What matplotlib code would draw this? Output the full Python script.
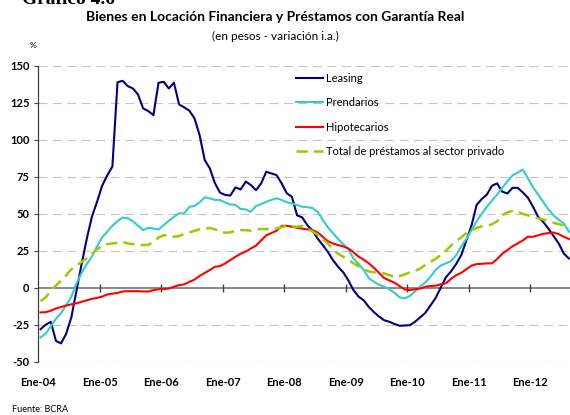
import numpy as np
import matplotlib.pyplot as plt

plt.rcParams['font.family'] = ['Lato', 'DejaVu Sans']

# monthly series, Jan-2004 .. Aug-2012 (y/y % change)
leasing = [
    -28, -25, -23, -36, -37.6, -31, -20, -2, 16, 33,
    48, 58, 69, 76, 82, 139, 140, 136.4, 134.8, 130.7,
    121.3, 119.5, 116.8, 138.7, 139.3, 134.8, 138.7, 124, 122, 119.8,
    114.6, 103.3, 86.4, 80.7, 70.6, 64.3, 62.8, 62.4, 67.9, 66.5,
    71.8, 69.5, 66, 70.6, 78.5, 77.3, 76.2, 70.6, 63.9, 61.5,
    49, 47.6, 42.4, 38.6, 33.4, 28.9, 24.3, 18.7, 14.2, 10.5,
    5, -1.6, -6, -8.5, -13, -16.5, -19.5, -22, -23, -24.5,
    -25.7, -25.5, -25.3, -23, -20, -17, -12, -7, 0, 7,
    11, 16, 22, 32, 42, 56, 60, 63, 69, 70.6,
    65, 63.8, 67.6, 67.6, 64.5, 60.9, 54.8, 48, 44.5, 40,
    35, 30, 23.2, 19.8,
]
prendarios = [
    -33.6, -31, -26, -21, -17, -12, -6, 3, 10, 16,
    21, 28, 34, 38, 42, 45, 47.5, 47, 45, 42,
    39, 40.6, 40.1, 39.4, 42.4, 45.3, 48, 50.3, 50.3, 54.8,
    55.3, 57.8, 61.2, 60.5, 59.4, 59.4, 57.6, 56.4, 56, 53.3,
    53, 51.4, 55.3, 56.6, 58.2, 59.4, 60.5, 59.4, 57.8, 57,
    56, 54.8, 54.5, 54, 51.4, 46, 41, 37, 33, 29.5,
    26, 19.8, 16, 12, 6.5, 4, 2, 0.7, -1, -3.5,
    -6.5, -7.2, -5.5, -2.5, 1, 3.5, 7.5, 12, 15, 16.5,
    18, 22, 28, 33, 39, 45, 50, 54.8, 59, 63,
    67.5, 72, 76, 77.8, 80, 74, 68, 63, 58, 53,
    49, 46, 43.5, 38,
]
hipotecarios = [
    -16.7, -16.5, -15.5, -14, -13, -12, -11.2, -10.5, -9.5, -8.5,
    -7.5, -6.8, -6, -4.5, -4, -3.5, -2.5, -2.3, -2.3, -2.3,
    -2.5, -2.5, -1.6, -1, -0.9, -0.5, 0.7, 1.8, 2.3, 4,
    5.5, 8, 10, 12, 14.2, 14.7, 16.5, 18.7, 21, 23,
    24.5, 26.6, 28.5, 32, 35.5, 37, 38.6, 41.9, 41.9, 41.3,
    40.6, 40, 39.5, 39, 37.4, 34.5, 31.5, 30, 28.9, 28,
    26.6, 24, 21, 19, 16.5, 13.5, 10, 6.5, 5, 3.4,
    1.1, -1.2, -1.6, -1, -0.5, 0.7, 1.2, 1.4, 2.3, 3,
    6, 8.5, 10.1, 12.5, 15, 16, 16.2, 16.5, 16.5, 19.4,
    23, 25.5, 28, 30, 32, 34.5, 34.5, 35.5, 36.5, 37,
    37.4, 36.3, 34.5, 33,
]
total = [
    -9, -6.5, -2, 1.5, 5, 8.5, 12.5, 15, 17.5, 20,
    23, 26, 28.5, 29.5, 30, 30.4, 31, 30, 29.5, 29,
    28.9, 29, 31, 34, 35.5, 35.5, 34.5, 35, 36.5, 37.5,
    38.5, 39.5, 40, 40.5, 39.5, 38, 37.2, 37.5, 38.5, 39,
    39, 38.6, 39.5, 39.7, 39.7, 40, 40.1, 41, 41.9, 41.5,
    41.3, 41.9, 40, 38, 36, 33, 30, 26, 23, 21,
    19, 16.5, 14.5, 12.5, 11, 10.5, 10.2, 9.7, 8.5, 7.5,
    7.9, 9, 10.5, 11.5, 13, 15.5, 17.5, 19.5, 22, 25,
    28.5, 31.5, 34, 37, 39, 40.5, 41.5, 42, 43, 45,
    49, 51, 52, 51.5, 50, 49, 48, 47, 46.2, 45,
    44, 43, 42.4, 41.3,
]
year_labels = ['Ene-04', 'Ene-05', 'Ene-06', 'Ene-07', 'Ene-08',
               'Ene-09', 'Ene-10', 'Ene-11', 'Ene-12']
y_ticks = [-50, -25, 0, 25, 50, 75, 100, 125, 150]

n = len(leasing)
x = np.arange(n) + 0.5
year_pos = np.arange(len(year_labels)) * 12

fig = plt.figure(figsize=(5.7, 4.15), dpi=100)
ax = fig.add_axes([38 / 570, 53.3 / 415, 533.5 / 570, 295.7 / 415])

for v in y_ticks:
    if v != 0:
        ax.axhline(v, color='#c4c4c4', lw=0.8, dashes=(8, 5), zorder=0)
ax.axhline(0, color='#808080', lw=1.3, zorder=1)
ax.vlines(year_pos[1:], -2.8, 2.8, color='#404040', lw=1.0, zorder=1)

ax.plot(x, leasing, color='#000080', lw=1.5, label='Leasing')
ax.plot(x, prendarios, color='#33CCCC', lw=1.5, label='Prendarios')
ax.plot(x, hipotecarios, color='#FF0000', lw=1.5, label='Hipotecarios')
ax.plot(x, total, color='#99CC00', lw=1.8, dashes=(4.5, 2.5),
        label='Total de préstamos al sector privado')

ax.set_xlim(0, 104)
ax.set_ylim(-50, 150)
ax.set_yticks(y_ticks)
ax.set_yticklabels([str(v) for v in y_ticks], fontweight='bold', fontsize=8)
ax.set_xticks(year_pos)
ax.set_xticklabels(year_labels, fontweight='bold', fontsize=8)
ax.tick_params(axis='x', length=0, pad=11)
ax.tick_params(axis='y', length=3, width=0.8, pad=3, color='#404040')

for s in ['top', 'right', 'bottom']:
    ax.spines[s].set_visible(False)
ax.spines['left'].set_color('#404040')
ax.spines['left'].set_linewidth(0.9)

leg = ax.legend(loc='upper left', bbox_to_anchor=(296 / 570, 1 - 73 / 415),
                bbox_transform=fig.transFigure, frameon=False, fontsize=8,
                handlelength=2.4, handletextpad=0.3, labelspacing=1.2,
                borderaxespad=0, borderpad=0)

fig.text(22 / 570, 1 - 4 / 415, 'Gráfico 4.6', family='Liberation Serif',
         fontweight='bold', fontsize=14, va='baseline', ha='left')
fig.text(275 / 570, 1 - 17 / 415,
         'Bienes en Locación Financiera y Préstamos con Garantía Real',
         fontweight='bold', fontsize=10, ha='center', va='center')
fig.text(275 / 570, 1 - 36 / 415, '(en pesos - variación i.a.)',
         fontsize=8.5, ha='center', va='center')
fig.text(33 / 570, 1 - 45 / 415, '%', fontsize=6, ha='center', va='center')
fig.text(12 / 570, 1 - 409 / 415, 'Fuente: BCRA', fontsize=6.5,
         ha='left', va='center')

fig.savefig('out.png', dpi=100)
